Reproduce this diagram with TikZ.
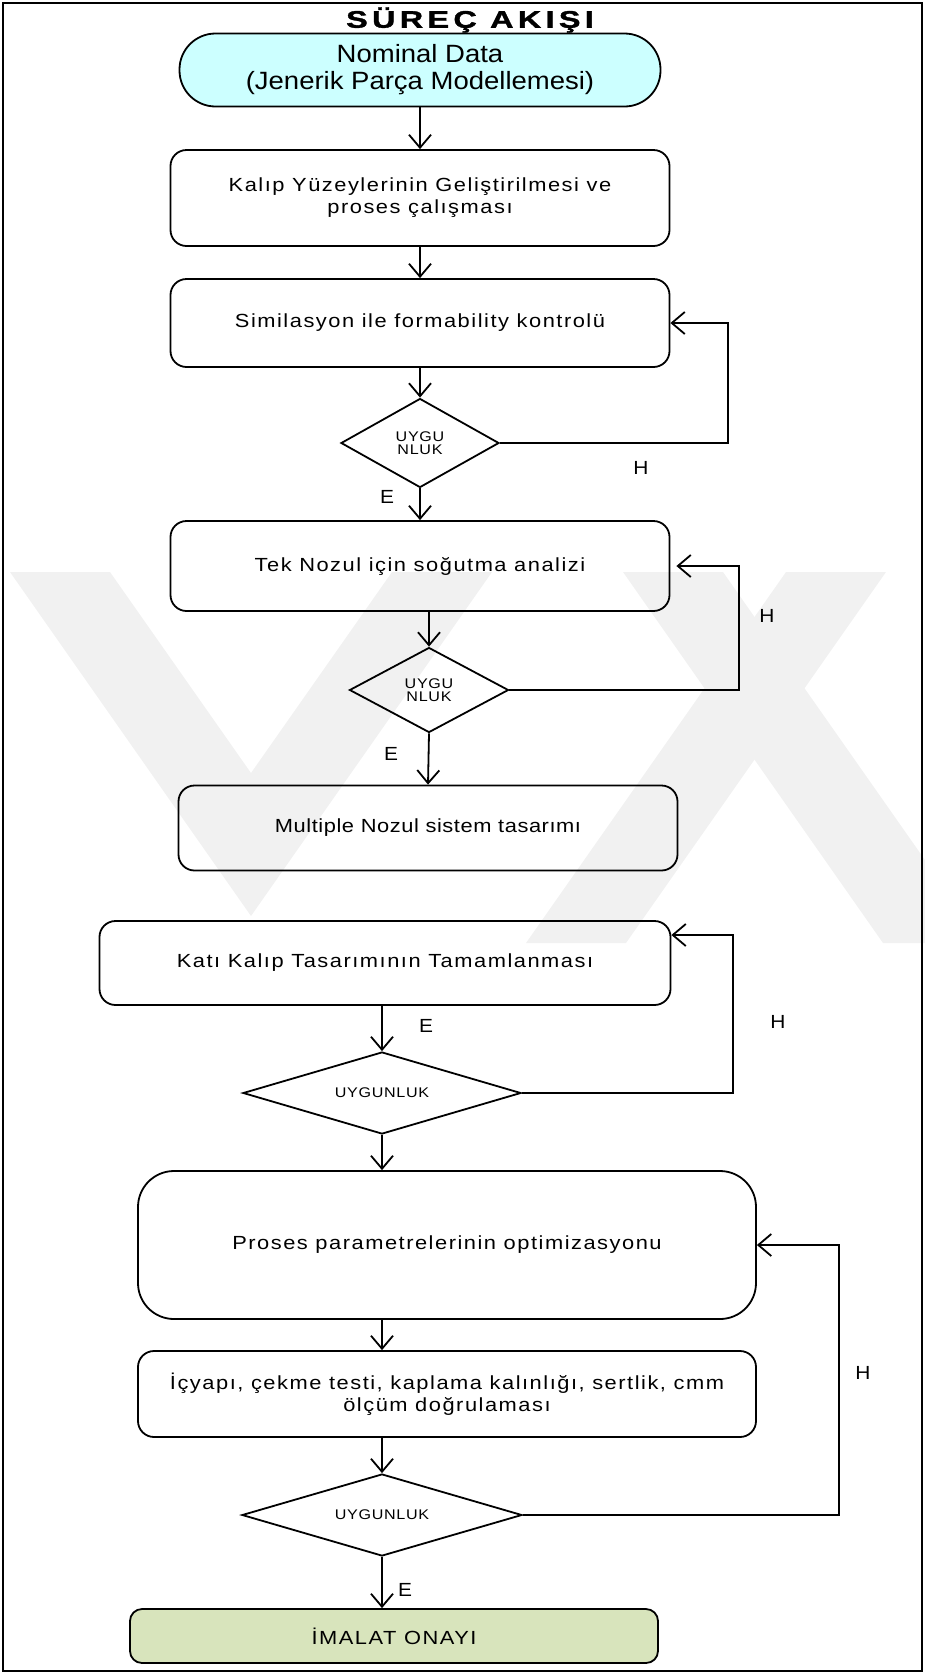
\documentclass[tikz,border=0pt]{standalone}
\usepackage{fontspec}
\setmainfont{Liberation Sans}
\newfontfamily\bodyf[FakeStretch=1.15,LetterSpace=8]{Liberation Sans}
\newfontfamily\diaf[FakeStretch=1.15,LetterSpace=5]{Liberation Sans}
\newfontfamily\nomf[FakeStretch=1.1]{Liberation Sans}
\newfontfamily\lblf[FakeStretch=1.1]{Liberation Sans}
\newfontfamily\titlef[FakeStretch=1.35,LetterSpace=18,BoldFeatures={FakeBold=1.5}]{Liberation Sans}
\usetikzlibrary{arrows.meta,shapes.geometric}
\definecolor{wmgray}{RGB}{241,241,241}
\definecolor{nomfill}{RGB}{204,255,255}
\definecolor{okfill}{RGB}{216,228,188}
\begin{document}
\begin{tikzpicture}[x=1pt,y=-1pt,
  box/.style={draw, line width=1.8pt, rounded corners=16pt, align=center, inner sep=0pt,
    font=\bodyf\fontsize{19}{22}\selectfont},
  dia/.style={draw, diamond, line width=1.8pt, align=center, inner sep=0pt,
    font=\diaf\fontsize{14}{13}\selectfont},
  arr/.style={line width=1.8pt, -{Straight Barb[length=13pt,width=22pt]}},
  lbl/.style={font=\lblf\fontsize{19}{20}\selectfont, inner sep=0pt}]
\useasboundingbox (0,0) rectangle (925,1674);
% watermark
\fill[wmgray] (10,572) -- (110,572) -- (251,773) -- (392,572) -- (492,572) -- (251,916) -- cycle;
\fill[wmgray] (623,572) -- (723,572) -- (925,860) -- (925,943) -- (883,943) -- cycle;
\fill[wmgray] (786,572) -- (886,572) -- (626,943) -- (526,943) -- cycle;
% frame
\draw[line width=1.8pt] (3,3) rectangle (922,1671);
% title
\node (title) at (470,20) {\titlef\bfseries\fontsize{24}{26}\selectfont SÜREÇ AKIŞI};
% nodes
\node[draw, line width=1.8pt, fill=nomfill, rounded corners=36pt, minimum width=481pt, minimum height=73pt,
  align=center, inner sep=0pt, font=\nomf\fontsize{25}{27}\selectfont] (nom) at (420,70)
  {Nominal Data\\(Jenerik Parça Modellemesi)};
\node[box, minimum width=499pt, minimum height=96pt] (b1) at (420,198)
  {Kalıp Yüzeylerinin Geliştirilmesi ve\\proses çalışması};
\node[box, minimum width=499pt, minimum height=88pt] (b2) at (420,323)
  {Similasyon ile formability kontrolü};
\node[dia, minimum width=158pt, minimum height=89pt] (d1) at (420,443) {UYGU\\NLUK};
\node[box, minimum width=499pt, minimum height=90pt] (b3) at (420,566)
  {Tek Nozul için soğutma analizi};
\node[dia, minimum width=159pt, minimum height=85pt] (d2) at (429,690) {UYGU\\NLUK};
\node[box, minimum width=499pt, minimum height=85pt] (b4) at (428,828)
  {\addfontfeatures{LetterSpace=3}Multiple Nozul sistem tasarımı};
\node[box, minimum width=571pt, minimum height=84pt] (b5) at (385,963)
  {Katı Kalıp Tasarımının Tamamlanması};
\node[dia, shape aspect=3.4, minimum width=278pt, minimum height=82pt] (d3) at (382,1093) {UYGUNLUK};
\node[box, rounded corners=36pt, minimum width=618pt, minimum height=148pt] (b6) at (447,1245)
  {Proses parametrelerinin optimizasyonu};
\node[box, minimum width=618pt, minimum height=86pt] (b7) at (447,1394)
  {İçyapı, çekme testi, kaplama kalınlığı, sertlik, cmm\\ölçüm doğrulaması};
\node[dia, shape aspect=3.4, minimum width=280pt, minimum height=82pt] (d4) at (382,1515) {UYGUNLUK};
\node[box, rounded corners=12pt, fill=okfill, minimum width=528pt, minimum height=54pt] (b8) at (394,1636)
  {İMALAT ONAYI};
% loop corners
\coordinate (c1) at (728,443);
\coordinate (c2) at (739,690);
\coordinate (c3) at (733,1093);
\coordinate (c4) at (839,1515);
% main arrows
\draw[arr] (nom.south) -- (b1.north);
\draw[arr] (b1.south) -- (b2.north);
\draw[arr] (b2.south) -- (d1.north);
\draw[arr] (d1.south) -- (b3.north);
\draw[arr] (d2.north |- b3.south) -- (d2.north);
\draw[arr] (d2.south) -- (b4.north);
\draw[arr] (d3.north |- b5.south) -- (d3.north);
\draw[arr] (d3.south) -- (d3.south |- b6.north);
\draw[arr] (d3.south |- b6.south) -- (d3.south |- b7.north);
\draw[arr] (d4.north |- b7.south) -- (d4.north);
\draw[arr] (d4.south) -- (d4.south |- b8.north);
% feedback loops
\draw[arr] (d1.east) -- (c1) |- (b2.east);
\draw[arr, shorten >=6pt] (d2.east) -- (c2) |- (b3.east);
\draw[arr] (d3.east) -- (c3) |- ([yshift=28pt]b5.east);
\draw[arr] (d4.east) -- (c4) |- (b6.east);
% labels
\node[lbl] (h1) at (641,468) {H};
\node[lbl] (e1) at (387,497) {E};
\node[lbl] (h2) at (767,616) {H};
\node[lbl] (e2) at (391,754) {E};
\node[lbl] (e3) at (426,1026) {E};
\node[lbl] (h3) at (778,1022) {H};
\node[lbl] (h4) at (863,1373) {H};
\node[lbl] (e4) at (405,1590) {E};
\end{tikzpicture}
\end{document}
